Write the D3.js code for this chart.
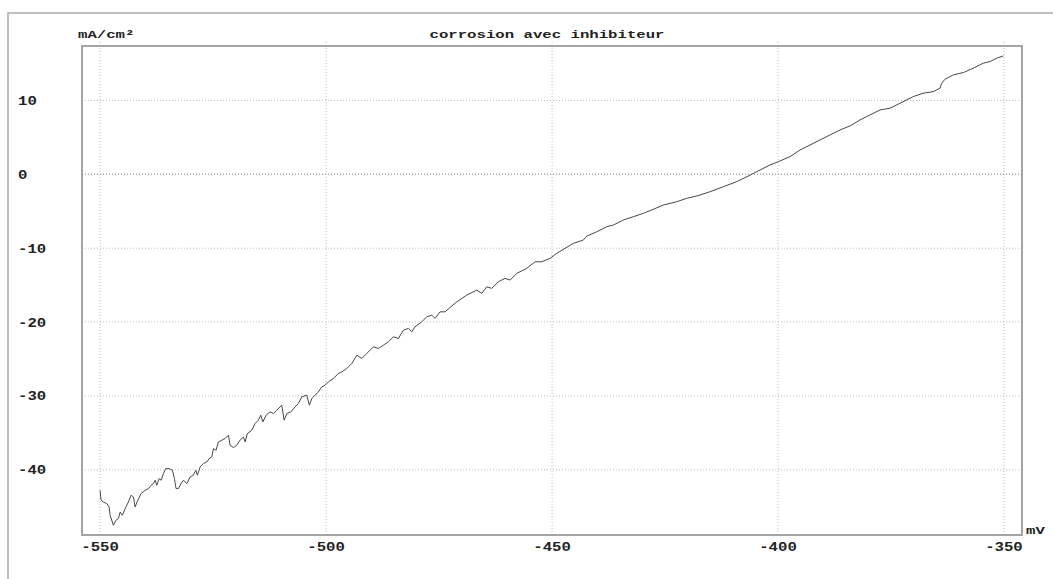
<!DOCTYPE html>
<html>
<head>
<meta charset="utf-8">
<script src="https://cdn.jsdelivr.net/npm/d3@7"></script>
<style>
  body { margin: 0; background: #fff; }
  svg { display: block; }
</style>
</head>
<body>
<svg id="chart" width="1053" height="579"></svg>
<script>
// Polarisation curve: potential (mV) vs current density (mA/cm²)
const potential = [
  -549.9,-549.67,-549.16,-548.41,-547.9,-547.68,-546.95,-546.42,-545.84,-545.46,
  -544.96,-544.36,-543.63,-543.03,-542.52,-542.15,-541.55,-540.82,-539.93,-539.2,
  -538.61,-538.1,-537.72,-537.35,-536.84,-536.39,-535.88,-535.35,-534.62,-533.89,
  -533.45,-533.08,-532.57,-531.97,-531.46,-530.71,-529.98,-529.25,-528.72,-528.36,
  -527.77,-527.04,-526.28,-525.77,-525.18,-524.82,-524.23,-523.72,-522.96,-522.23,
  -521.5,-521.13,-520.4,-519.65,-518.92,-518.19,-517.81,-517.3,-516.33,-515.6,
  -514.87,-514.34,-513.89,-513.16,-512.28,-511.55,-510.8,-510.07,-509.69,-509.18,
  -508.58,-507.7,-506.75,-506.02,-505.27,-504.16,-503.58,-503.05,-502.32,-501.59,
  -500.84,-500.11,-499.38,-498.27,-497.17,-496.42,-495.31,-494.2,-493.1,-491.99,
  -490.88,-489.42,-488.32,-487.21,-486.11,-485.0,-483.89,-482.79,-481.68,-480.93,
  -480.2,-478.72,-477.61,-476.5,-475.77,-474.67,-473.56,-472.46,-470.97,-468.76,
  -466.55,-465.44,-464.34,-463.23,-461.77,-460.29,-459.18,-457.7,-455.49,-453.65,
  -452.17,-450.33,-448.85,-447.01,-445.18,-442.96,-442.21,-440.0,-437.79,-436.33,
  -434.12,-431.9,-429.69,-427.48,-425.27,-422.3,-420.09,-417.88,-414.93,-412.0,
  -409.03,-406.0,-403.87,-401.66,-399.82,-397.23,-395.02,-392.81,-390.6,-388.38,
  -386.17,-383.96,-381.75,-379.54,-377.32,-375.11,-372.9,-371.42,-369.96,-367.75,
  -365.53,-364.05,-363.67,-362.94,-361.1,-358.89,-356.68,-354.47,-352.99,-351.5,
  -350.04
];
const current = [
  -42.85,-44.2,-44.43,-44.65,-45.11,-46.23,-47.59,-46.91,-46.68,-45.79,
  -46.23,-45.33,-44.43,-43.52,-43.75,-45.11,-44.2,-43.29,-42.85,-42.62,
  -42.17,-41.94,-41.49,-42.17,-41.26,-41.49,-40.58,-39.91,-39.91,-40.14,
  -41.26,-42.62,-42.62,-41.94,-41.49,-41.94,-41.04,-40.81,-40.14,-40.81,
  -39.69,-39.23,-39.01,-38.55,-38.33,-37.2,-37.43,-36.3,-36.07,-35.84,
  -35.39,-36.75,-37.06,-36.75,-36.07,-35.62,-36.3,-35.16,-34.72,-33.81,
  -33.36,-32.68,-33.59,-32.68,-32.24,-32.45,-32.0,-31.56,-31.33,-33.36,
  -32.45,-32.24,-31.56,-31.1,-30.2,-29.97,-31.33,-30.42,-29.97,-29.53,
  -28.85,-28.62,-28.17,-27.71,-27.03,-26.82,-26.36,-25.68,-24.55,-25.0,
  -24.32,-23.43,-23.64,-23.2,-22.75,-22.07,-22.29,-21.17,-20.93,-21.4,
  -20.72,-20.04,-19.36,-19.13,-19.58,-18.69,-18.69,-18.1,-17.33,-16.42,
  -15.75,-16.19,-15.3,-15.51,-14.62,-14.16,-14.39,-13.48,-12.8,-11.91,
  -11.91,-11.45,-10.77,-10.09,-9.42,-8.97,-8.43,-7.85,-7.17,-6.94,
  -6.26,-5.81,-5.35,-4.81,-4.23,-3.78,-3.32,-3.01,-2.43,-1.75,
  -1.07,-0.16,0.51,1.19,1.64,2.32,3.22,3.9,4.58,5.26,
  5.93,6.48,7.29,7.97,8.64,8.88,9.55,10.0,10.45,10.91,
  11.12,11.59,12.26,12.8,13.39,13.7,14.3,14.97,15.19,15.65,
  15.96
];
const xTicks = [-550, -500, -450, -400, -350];
const yTicks = [10, 0, -10, -20, -30, -40];
const title = "corrosion avec inhibiteur";
const yUnit = "mA/cm²";
const xUnit = "mV";

const svg = d3.select("#chart");
const W = 1053, H = 579;
const plot = { left: 82, top: 46, right: 1022, bottom: 535 };
const FONT = '"Liberation Mono", "Courier New", monospace';
const CHAR_W = 9.4;   // wide plotter-style lettering
const INK = "#222";

const x = d3.scaleLinear().domain([-553.9, -345.9]).range([plot.left, plot.right]);
const y = d3.scaleLinear().domain([-48.9, 17.3]).range([plot.bottom, plot.top]);

function letter(sel, size) {
  sel.attr("font-family", FONT)
     .attr("font-size", size)
     .attr("font-weight", "bold")
     .attr("fill", INK)
     .attr("lengthAdjust", "spacingAndGlyphs")
     .attr("textLength", function () { return this.textContent.length * CHAR_W; });
}

// outer page frame (open to the right and bottom)
svg.append("path")
  .attr("d", `M8,${H} V13 H${W}`)
  .attr("fill", "none")
  .attr("stroke", "#aaa")
  .attr("stroke-width", 1.5);

// dotted grid
const gx = svg.append("g")
  .attr("transform", `translate(0,${plot.bottom})`)
  .call(d3.axisBottom(x).tickValues(xTicks).tickSize(-(plot.bottom - plot.top + 4)).tickFormat(""));
gx.select(".domain").remove();
gx.selectAll("line").attr("stroke", "#bdbdbd").attr("stroke-dasharray", "1,2");

const gy = svg.append("g")
  .attr("transform", `translate(${plot.left},0)`)
  .call(d3.axisLeft(y).tickValues(yTicks).tickSize(-(plot.right - plot.left)).tickFormat(""));
gy.select(".domain").remove();
gy.selectAll("line")
  .attr("stroke", d => d === 0 ? "#a8a8a8" : "#bdbdbd")
  .attr("stroke-width", d => d === 0 ? 1.4 : 1)
  .attr("stroke-dasharray", "1,2");

// plot frame
svg.append("rect")
  .attr("x", plot.left).attr("y", plot.top)
  .attr("width", plot.right - plot.left).attr("height", plot.bottom - plot.top)
  .attr("fill", "none")
  .attr("stroke", "#8f8f8f")
  .attr("stroke-width", 1.6);

// curve
const pts = potential.map((p, i) => [p, current[i]]);
svg.append("path")
  .datum(pts)
  .attr("fill", "none")
  .attr("stroke", "#484848")
  .attr("stroke-width", 1)
  .attr("stroke-linejoin", "round")
  .attr("d", d3.line().x(d => x(d[0])).y(d => y(d[1])));

// tick labels
const ax = svg.append("g")
  .attr("transform", `translate(0,${plot.bottom})`)
  .call(d3.axisBottom(x).tickValues(xTicks).tickSize(0).tickFormat(d => String(d)));
ax.select(".domain").remove();
ax.selectAll("text").attr("y", 16).attr("dy", null).call(letter, 12.5);

const ay = svg.append("g")
  .attr("transform", `translate(${plot.left},0)`)
  .call(d3.axisLeft(y).tickValues(yTicks).tickSize(0).tickFormat(d => String(d)));
ay.select(".domain").remove();
ay.selectAll("text")
  .attr("x", 18 - plot.left)
  .attr("y", 4.5)
  .attr("dy", null)
  .attr("text-anchor", "start")
  .call(letter, 12.5);

// title and units
svg.append("text").attr("x", 547).attr("y", 38).attr("text-anchor", "middle")
  .text(title).call(letter, 11.5);
svg.append("text").attr("x", 78).attr("y", 38).attr("text-anchor", "start")
  .text(yUnit).call(letter, 11.5);
svg.append("text").attr("x", 1026).attr("y", 534).attr("text-anchor", "start")
  .text(xUnit).call(letter, 11.5);
</script>
</body>
</html>
